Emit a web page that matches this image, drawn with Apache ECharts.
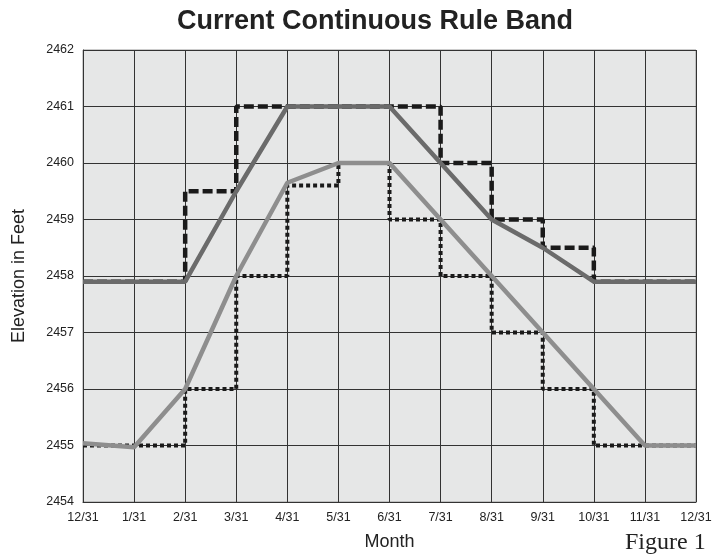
<!DOCTYPE html>
<html>
<head>
<meta charset="utf-8">
<script src="https://cdn.jsdelivr.net/npm/echarts@6/dist/echarts.min.js"></script>
<style>
  html, body { margin: 0; padding: 0; background: #fff; }
  #chart { width: 722px; height: 560px; }
</style>
</head>
<body>
<div id="chart"></div>
<script>
// month labels along the x axis
const months = ['12/31', '1/31', '2/31', '3/31', '4/31', '5/31', '6/31', '7/31', '8/31', '9/31', '10/31', '11/31', '12/31'];

// upper solid curve
const upperCurve = [2457.9, 2457.9, 2457.9, 2459.5, 2461, 2461, 2461, 2460, 2459, 2458.5, 2457.9, 2457.9, 2457.9];
// lower solid curve
const lowerCurve = [2455.04, 2454.97, 2456, 2458, 2459.65, 2460, 2460, 2459, 2458, 2457, 2456, 2455, 2455];
// upper dashed steps (value holds until next month)
const upperSteps = [2457.9, 2457.9, 2459.5, 2461, 2461, 2461, 2461, 2460, 2459, 2458.5, 2457.9, 2457.9, 2457.9];
// lower dotted steps
const lowerSteps = [2455, 2455, 2456, 2458, 2459.6, 2460, 2459, 2458, 2457, 2456, 2455, 2455, 2455];

const chart = echarts.init(document.getElementById('chart'));

const option = {
  animation: false,
  grid: {
    left: 83, right: 26, top: 50, bottom: 58,
    show: true,
    backgroundColor: '#e6e7e7',
    borderColor: '#999',
    borderWidth: 1
  },
  xAxis: {
    type: 'category',
    data: months,
    boundaryGap: false,
    name: 'Month',
    nameLocation: 'middle',
    nameGap: 31,
    nameTextStyle: { fontFamily: 'Liberation Sans', fontSize: 18, color: '#222' },
    axisLine: { lineStyle: { color: '#333' } },
    axisTick: { show: false },
    axisLabel: { fontFamily: 'Liberation Sans', fontSize: 12.5, color: '#222', margin: 9, interval: 0 },
    splitLine: { show: true, lineStyle: { color: '#333', width: 1 } }
  },
  yAxis: {
    type: 'value',
    min: 2454,
    max: 2462,
    interval: 1,
    name: 'Elevation in Feet',
    nameLocation: 'middle',
    nameGap: 55,
    nameTextStyle: { fontFamily: 'Liberation Sans', fontSize: 18, color: '#222' },
    axisLine: { show: true, lineStyle: { color: '#333' } },
    axisTick: { show: false },
    axisLabel: { fontFamily: 'Liberation Sans', fontSize: 12.5, color: '#222', margin: 9, formatter: v => String(v) },
    splitLine: { show: true, lineStyle: { color: '#333', width: 1 } }
  },
  graphic: [
    {
      type: 'text',
      x: 375,
      y: 8,
      style: {
        text: 'Current Continuous Rule Band',
        font: 'bold 27px "Liberation Sans"',
        fill: '#222',
        align: 'center',
        verticalAlign: 'top'
      }
    },
    {
      type: 'text',
      x: 625,
      y: 531,
      style: { text: 'Figure 1', font: '24px "Liberation Serif"', fill: '#222', verticalAlign: 'top' }
    }
  ],
  series: [
    {
      type: 'line',
      data: upperSteps,
      step: 'end',
      symbol: 'none',
      z: 2,
      lineStyle: { color: '#1a1a1a', width: 4.5, type: [10, 4] }
    },
    {
      type: 'line',
      data: lowerSteps,
      step: 'end',
      symbol: 'none',
      z: 2,
      lineStyle: { color: '#1a1a1a', width: 4, type: [4, 3] }
    },
    {
      type: 'line',
      data: upperCurve,
      symbol: 'none',
      z: 3,
      lineStyle: { color: '#6b6b6b', width: 4.5 }
    },
    {
      type: 'line',
      data: lowerCurve,
      symbol: 'none',
      z: 3,
      lineStyle: { color: '#8e8e8e', width: 4.5 }
    }
  ]
};

chart.setOption(option);
</script>
</body>
</html>
